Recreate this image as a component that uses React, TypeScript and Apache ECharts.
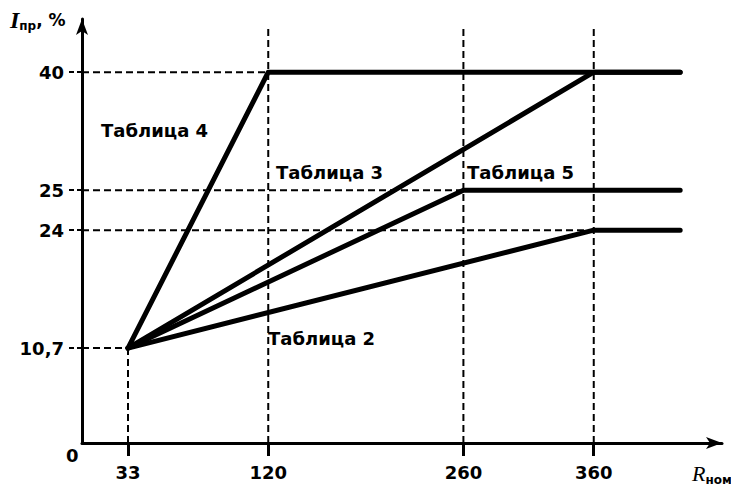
import React, { useEffect, useRef } from 'react';
import * as echarts from 'echarts';

// ---- data ----
const xTicks = [33, 120, 260, 360];
const yTicks = [10.7, 24, 25, 40];
const yTickLabels = ['10,7', '24', '25', '40'];
const startPoint = [33, 10.7];
const seriesNames = ['Таблица 4', 'Таблица 3', 'Таблица 5', 'Таблица 2'];
const kneeX = [120, 360, 260, 360];
const plateauY = [40, 40, 25, 24];
const lineEndX = 422;
const hGuideY = [10.7, 24, 25, 40];
const hGuideXEnd = [33, 360, 260, 120];
const vGuideX = [33, 120, 260, 360];
const vGuideYEnd = [10.7, 45, 45, 45];

const FONT = 'DejaVu Sans';
const X_MAX = 452;
const Y_MAX = 46;

export default function App() {
  const ref = useRef<HTMLDivElement>(null);
  useEffect(() => {
    document.body.style.margin = '0';
    const chart = echarts.init(ref.current!, null, { renderer: 'svg' });
    const dash = { type: [7, 4] as any, width: 2, color: '#000' };
    const mainSeries = seriesNames.map((name, i) => ({
      type: 'line',
      name,
      data: [startPoint, [kneeX[i], plateauY[i]], [lineEndX, plateauY[i]]],
      symbol: 'none',
      lineStyle: { color: '#000', width: 5, cap: 'round', join: 'round' },
      z: 5,
      silent: true,
    }));
    const hGuides = hGuideY.map((y, i) => ({
      type: 'line',
      data: [[0, y], [hGuideXEnd[i], y]],
      symbol: 'none',
      lineStyle: dash,
      z: 2,
      silent: true,
    }));
    const vGuides = vGuideX.map((x, i) => ({
      type: 'line',
      data: [[x, 0], [x, vGuideYEnd[i]]],
      symbol: 'none',
      lineStyle: dash,
      z: 2,
      silent: true,
    }));
    const labelPos = [
      [101, 132],
      [276, 174],
      [467, 174],
      [268, 340],
    ];
    const lineAxisCommon = {
      type: 'value',
      axisTick: { show: false },
      axisLabel: { show: false },
      splitLine: { show: false },
      axisLine: {
        show: true,
        onZero: false,
        lineStyle: { color: '#000', width: 3 },
        symbol: ['none', 'arrow'],
        symbolSize: [9, 16],
      },
    };
    chart.setOption({
      animation: false,
      grid: { left: 82, right: 9, top: 19, bottom: 52 },
      xAxis: [
        {
          type: 'value',
          position: 'bottom',
          min: 0,
          max: X_MAX,
          breaks: [
            { start: 70, end: 71, gap: 14.6 },
            { start: 300, end: 310, gap: 3.5 },
          ],
          breakArea: { show: false },
          axisLine: { show: false, onZero: false },
          axisTick: { show: true, customValues: xTicks, length: 13, lineStyle: { color: '#000', width: 3 } },
          axisLabel: {
            customValues: xTicks,
            margin: 20,
            fontSize: 18,
            fontWeight: 'bold',
            fontFamily: FONT,
            color: '#000',
          },
          splitLine: { show: false },
        },
        { ...lineAxisCommon, position: 'bottom', min: 0, max: X_MAX },
      ],
      yAxis: [
        {
          type: 'value',
          position: 'left',
          min: 0,
          max: Y_MAX,
          breaks: [
            { start: 24, end: 25, gap: 4.507 },
            { start: 30, end: 32, gap: 0.3 },
          ],
          breakArea: { show: false },
          axisLine: { show: false, onZero: false },
          axisTick: { show: true, customValues: yTicks, length: 14, lineStyle: { color: '#000', width: 2, type: [5, 3] } },
          axisLabel: {
            customValues: yTicks,
            margin: 18,
            fontSize: 18,
            fontWeight: 'bold',
            fontFamily: FONT,
            color: '#000',
            formatter: (v: number) => {
              const idx = yTicks.indexOf(v);
              return idx >= 0 ? yTickLabels[idx] : '';
            },
          },
          splitLine: { show: false },
        },
        { ...lineAxisCommon, position: 'left', min: 0, max: Y_MAX },
      ],
      graphic: [
        ...seriesNames.map((name, i) => ({
          type: 'text',
          left: labelPos[i][0],
          top: labelPos[i][1] - 11,
          style: { text: name, fontSize: 18, fontWeight: 'bold', fontFamily: FONT, fill: '#000' },
          z: 10,
        })),
        {
          type: 'text',
          left: 66,
          top: 446,
          style: { text: '0', fontSize: 18, fontWeight: 'bold', fontFamily: FONT, fill: '#000' },
        },
        {
          type: 'text',
          left: 10,
          top: 8,
          style: {
            text: '{a|I}{b|пр}{c|, %}',
            rich: {
              a: { fontSize: 24, fontStyle: 'italic', fontWeight: 'bold', fontFamily: 'Liberation Serif', fill: '#000' },
              b: { fontSize: 12, fontWeight: 'bold', fontFamily: FONT, fill: '#000', padding: [12, 0, 0, 0] },
              c: { fontSize: 17, fontWeight: 'bold', fontFamily: FONT, fill: '#000' },
            },
          },
        },
        {
          type: 'text',
          left: 692,
          top: 462,
          style: {
            text: '{a|R}{b|ном}',
            rich: {
              a: { fontSize: 22, fontStyle: 'italic', fontFamily: 'Liberation Serif', fill: '#000' },
              b: { fontSize: 12, fontWeight: 'bold', fontFamily: FONT, fill: '#000', padding: [14, 0, 0, 0] },
            },
          },
        },
      ],
      series: [...hGuides, ...vGuides, ...mainSeries],
    } as any);
    return () => chart.dispose();
  }, []);
  return <div ref={ref} style={{ width: 731, height: 495 }} />;
}
